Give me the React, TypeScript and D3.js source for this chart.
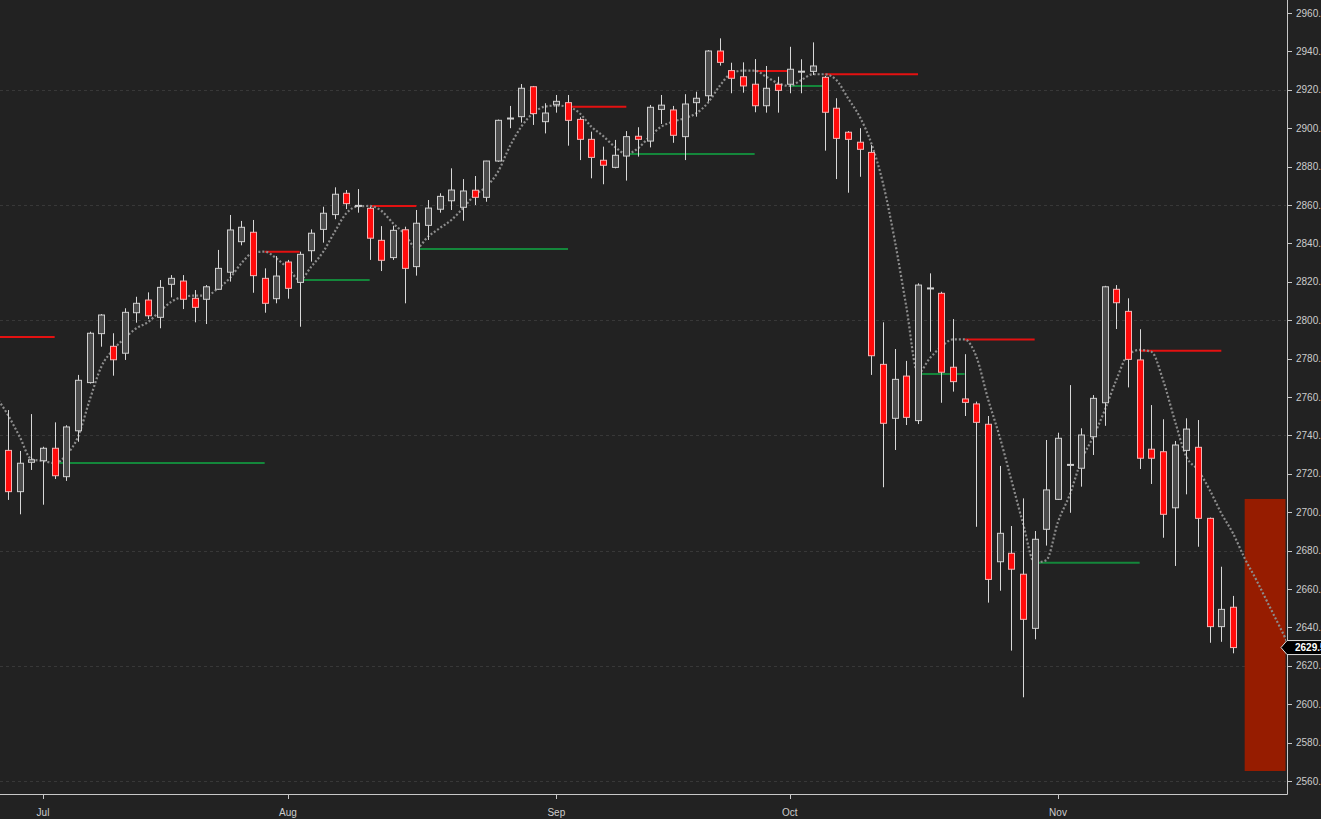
import * as d3 from "d3";
import { useRef, useEffect } from "react";

// Daily bars (bar 0 is the first partly visible candle)
const opens = [
  2732.2, 2710.7, 2726.0, 2726.8, 2733.3, 2718.5, 2742.4, 2767.5, 2793.0, 2786.4,
  2782.8, 2803.9, 2810.5, 2801.5, 2818.7, 2820.4, 2811.4, 2810.9, 2816.1, 2825.0,
  2840.9, 2845.8, 2821.8, 2811.2, 2830.3, 2819.7, 2836.2, 2847.3, 2855.0, 2866.1,
  2859.5, 2858.3, 2841.6, 2832.6, 2847.1, 2827.9, 2849.4, 2857.8, 2862.2, 2858.8,
  2867.7, 2864.0, 2882.9, 2905.0, 2906.0, 2921.6, 2903.4, 2912.2, 2913.3, 2904.6,
  2894.2, 2883.3, 2879.6, 2885.5, 2895.8, 2893.3, 2909.8, 2909.5, 2895.6, 2913.3,
  2916.9, 2940.2, 2930.0, 2926.8, 2922.9, 2911.7, 2922.9, 2922.9, 2929.4, 2929.6,
  2926.5, 2910.4, 2897.9, 2892.7, 2887.4, 2777.0, 2748.9, 2770.9, 2747.7, 2816.6,
  2814.0, 2775.5, 2759.0, 2756.4, 2745.8, 2674.2, 2678.6, 2667.7, 2639.5, 2691.1,
  2706.7, 2724.6, 2722.9, 2739.3, 2757.0, 2816.1, 2804.6, 2779.3, 2732.8, 2731.5,
  2702.3, 2732.2, 2733.8, 2696.8, 2640.4, 2650.5,
];
const highs = [
  2753.2, 2731.9, 2751.1, 2734.1, 2746.8, 2745.3, 2771.5, 2794.0, 2803.2, 2793.2,
  2806.2, 2812.2, 2814.5, 2820.9, 2823.5, 2823.5, 2815.7, 2818.3, 2836.6, 2854.8,
  2851.7, 2852.2, 2827.0, 2833.4, 2831.4, 2835.7, 2847.3, 2859.1, 2869.2, 2867.8,
  2868.3, 2859.0, 2849.0, 2849.2, 2848.7, 2857.4, 2862.6, 2866.1, 2879.1, 2873.5,
  2875.1, 2883.0, 2904.5, 2911.6, 2923.0, 2922.0, 2913.0, 2917.3, 2917.3, 2905.7,
  2898.2, 2890.4, 2893.9, 2898.5, 2900.5, 2912.1, 2917.3, 2911.6, 2917.7, 2919.0,
  2940.7, 2946.8, 2934.1, 2934.3, 2936.0, 2932.4, 2926.8, 2942.4, 2935.9, 2944.7,
  2927.2, 2915.6, 2898.5, 2900.0, 2891.2, 2798.9, 2785.0, 2778.8, 2819.2, 2824.4,
  2814.8, 2800.6, 2782.3, 2757.6, 2750.1, 2724.1, 2692.8, 2707.2, 2690.2, 2737.6,
  2741.4, 2766.2, 2743.7, 2761.0, 2817.9, 2818.3, 2811.4, 2795.3, 2755.8, 2748.4,
  2737.1, 2748.9, 2748.0, 2697.2, 2671.6, 2656.4,
];
const lows = [
  2706.4, 2698.9, 2722.0, 2703.9, 2717.3, 2716.3, 2736.7, 2767.0, 2786.2, 2771.1,
  2779.3, 2798.7, 2800.6, 2795.8, 2811.9, 2805.8, 2798.9, 2798.0, 2815.8, 2820.1,
  2839.0, 2814.3, 2803.9, 2808.8, 2811.2, 2796.6, 2830.5, 2840.4, 2852.6, 2857.9,
  2856.0, 2831.4, 2825.6, 2831.4, 2808.8, 2823.2, 2841.8, 2856.0, 2857.4, 2851.8,
  2860.0, 2861.7, 2882.5, 2900.0, 2902.9, 2901.7, 2897.3, 2908.1, 2890.9, 2883.4,
  2873.9, 2870.8, 2879.1, 2872.7, 2885.2, 2890.0, 2902.2, 2892.4, 2883.4, 2906.0,
  2913.8, 2932.6, 2918.2, 2918.5, 2908.3, 2908.1, 2908.1, 2918.2, 2918.2, 2927.7,
  2888.3, 2873.5, 2866.4, 2874.7, 2771.5, 2713.0, 2732.4, 2745.4, 2745.9, 2783.6,
  2757.0, 2762.8, 2750.1, 2692.4, 2652.9, 2659.1, 2627.9, 2603.6, 2633.8, 2682.6,
  2706.4, 2699.7, 2713.3, 2729.8, 2745.0, 2795.4, 2765.0, 2722.5, 2714.7, 2686.7,
  2672.0, 2709.3, 2682.0, 2632.0, 2632.5, 2626.5,
];
const closes = [
  2710.7, 2725.5, 2727.3, 2733.3, 2719.0, 2744.4, 2768.7, 2793.2, 2802.7, 2779.4,
  2804.1, 2808.8, 2802.3, 2817.1, 2821.8, 2810.9, 2806.7, 2817.4, 2827.0, 2847.0,
  2848.4, 2823.2, 2808.8, 2823.0, 2816.6, 2834.3, 2845.3, 2855.7, 2865.6, 2860.7,
  2859.8, 2842.7, 2831.2, 2846.8, 2827.0, 2850.5, 2858.4, 2864.5, 2867.8, 2867.3,
  2864.0, 2882.9, 2904.1, 2905.3, 2920.8, 2907.6, 2907.9, 2914.0, 2904.1, 2894.2,
  2884.8, 2880.7, 2885.9, 2895.6, 2894.2, 2910.9, 2912.0, 2896.3, 2912.6, 2915.6,
  2940.2, 2934.3, 2926.0, 2922.0, 2911.7, 2920.8, 2919.7, 2930.7, 2929.7, 2932.4,
  2908.3, 2894.7, 2894.2, 2889.0, 2781.5, 2746.3, 2769.2, 2749.4, 2818.3, 2816.8,
  2772.9, 2768.0, 2757.2, 2746.8, 2665.0, 2689.0, 2670.3, 2644.2, 2685.9, 2711.6,
  2738.5, 2724.9, 2740.2, 2759.3, 2817.4, 2809.1, 2779.6, 2728.1, 2728.1, 2698.9,
  2735.0, 2743.3, 2696.8, 2640.4, 2649.4, 2629.5,
];

// dotted average as drawn, one value per bar starting at bar -1
const maFirstBar = -1;
const maValues = [
  2760.0, 2750.6, 2739.3, 2727.6, 2726.7, 2725.6, 2729.8, 2739.3, 2758.4, 2775.8,
  2784.5, 2790.6, 2795.8, 2799.0, 2804.5, 2809.6, 2812.2, 2812.8, 2812.8, 2816.6,
  2821.8, 2829.6, 2835.2, 2835.7, 2832.2, 2827.0, 2821.0, 2827.9, 2835.5, 2846.0,
  2855.7, 2859.3, 2859.5, 2857.0, 2850.5, 2844.9, 2837.5, 2843.5, 2847.9, 2852.2,
  2858.3, 2865.2, 2869.5, 2877.3, 2890.4, 2900.8, 2907.8, 2911.2, 2911.8, 2911.2,
  2907.8, 2900.8, 2896.0, 2890.4, 2886.6, 2889.5, 2895.6, 2900.8, 2903.4, 2905.2,
  2907.8, 2913.3, 2922.0, 2928.6, 2930.0, 2930.0, 2926.8, 2923.4, 2922.0, 2925.1,
  2928.1, 2928.1, 2925.1, 2915.6, 2906.0, 2892.1, 2871.3, 2841.8, 2807.0, 2772.3,
  2780.1, 2786.2, 2790.0, 2790.0, 2781.0, 2759.0, 2739.3, 2716.8, 2694.2, 2673.7,
  2675.0, 2695.0, 2709.0, 2727.0, 2739.0, 2753.0, 2768.9, 2782.0, 2784.5, 2783.6,
  2768.9, 2748.0, 2728.9, 2722.0, 2711.6, 2699.4, 2689.0, 2676.0, 2664.7, 2652.5,
  2640.4, 2628.0,
];

// swing levels: red from an average top, green from an average bottom
const levelFrom = [-1, 4, 22, 25, 31, 35, 48, 53, 64, 67, 70, 78, 82, 88, 97];
const levelTo = [4, 22, 25, 31, 35, 48, 53, 64, 67, 70, 78, 82, 88, 97, 104];
const levelValue = [
  2791.3, 2725.6, 2835.7, 2820.9, 2859.5, 2837.1, 2911.2, 2886.6, 2929.8, 2922.0,
  2928.1, 2772.0, 2790.0, 2673.7, 2784.1,
];
const levelKind = [
  "top", "bottom", "top", "bottom", "top", "bottom", "top", "bottom", "top", "bottom",
  "top", "bottom", "top", "bottom", "top",
];

// projected range box right of the last bar
const boxFrom = 106;
const boxTo = 109.5;
const boxHigh = 2706.9;
const boxLow = 2565.2;

const monthBars = [3, 24, 47, 67, 90];
const monthLabels = ["Jul", "Aug", "Sep", "Oct", "Nov"];

const priceTicks = [
  2560, 2580, 2600, 2620, 2640, 2660, 2680, 2700, 2720, 2740, 2760, 2780, 2800,
  2820, 2840, 2860, 2880, 2900, 2920, 2940, 2960,
];
const gridLevels = [2560, 2620, 2680, 2740, 2800, 2860, 2920];

const lastPrice = 2629.5;

const App = () => {
  const svgRef = useRef<SVGSVGElement>(null);

  useEffect(() => {
    if (!svgRef.current) return;
    const svg = d3.select(svgRef.current);
    svg.selectAll("*").remove();

    const width = 1321;
    const height = 819;
    const plotRight = 1287;
    const plotBottom = 794;
    const font = "'Liberation Sans', Arial, sans-serif";

    svg.attr("width", width).attr("height", height);

    const x = d3.scaleLinear().domain([0, 105]).range([8, 1233]);
    const y = d3.scaleLinear().domain([2560, 2960]).range([781, 13]);

    svg.append("rect").attr("width", width).attr("height", height).attr("fill", "#222222");

    svg
      .append("defs")
      .append("clipPath")
      .attr("id", "plot")
      .append("rect")
      .attr("x", 0)
      .attr("y", 0)
      .attr("width", plotRight - 1)
      .attr("height", plotBottom);

    const plot = svg.append("g").attr("clip-path", "url(#plot)");

    // grid
    plot
      .selectAll("line.grid")
      .data(gridLevels)
      .join("line")
      .attr("class", "grid")
      .attr("x1", 0)
      .attr("x2", plotRight)
      .attr("y1", (d) => Math.round(y(d)) + 0.5)
      .attr("y2", (d) => Math.round(y(d)) + 0.5)
      .attr("stroke", "#383838")
      .attr("stroke-dasharray", "3,3");

    // projection box
    plot
      .append("rect")
      .attr("x", x(boxFrom))
      .attr("width", x(boxTo) - x(boxFrom))
      .attr("y", y(boxHigh))
      .attr("height", y(boxLow) - y(boxHigh))
      .attr("fill", "#961c00");

    // swing levels
    plot
      .selectAll("line.level")
      .data(levelValue)
      .join("line")
      .attr("class", "level")
      .attr("x1", (_, i) => x(levelFrom[i]))
      .attr("x2", (_, i) => x(levelTo[i]))
      .attr("y1", (d) => y(d))
      .attr("y2", (d) => y(d))
      .attr("stroke", (_, i) => (levelKind[i] === "top" ? "#e41111" : "#14873b"))
      .attr("stroke-width", 2);

    // dotted average
    const maLine = d3
      .line<number>()
      .x((_, i) => x(maFirstBar + i))
      .y((d) => y(d))
      .curve(d3.curveMonotoneX);
    plot
      .append("path")
      .attr("d", maLine(maValues))
      .attr("fill", "none")
      .attr("stroke", "#8c8c8c")
      .attr("stroke-width", 2.2)
      .attr("stroke-dasharray", "2,2");

    // candles
    const bars = d3.range(closes.length);
    const candle = plot.selectAll("g.candle").data(bars).join("g").attr("class", "candle");

    candle
      .append("line")
      .attr("x1", (i) => Math.round(x(i)) + 0.5)
      .attr("x2", (i) => Math.round(x(i)) + 0.5)
      .attr("y1", (i) => y(highs[i]))
      .attr("y2", (i) => y(lows[i]))
      .attr("stroke", "#d8d8d8");

    candle
      .append("rect")
      .attr("x", (i) => Math.round(x(i)) - 2.5)
      .attr("width", 6)
      .attr("y", (i) => y(Math.max(opens[i], closes[i])))
      .attr("height", (i) => Math.max(1, Math.abs(y(opens[i]) - y(closes[i]))))
      .attr("fill", (i) => (closes[i] < opens[i] ? "#ff0a0a" : "#4c4c4c"))
      .attr("stroke", (i) => (closes[i] < opens[i] ? "#f2b4b4" : "#cfcfcf"))
      .attr("stroke-width", 1);

    // axes
    svg
      .append("line")
      .attr("x1", plotRight + 0.5)
      .attr("x2", plotRight + 0.5)
      .attr("y1", 0)
      .attr("y2", plotBottom + 0.5)
      .attr("stroke", "#c8c8c8");
    svg
      .append("line")
      .attr("x1", 0)
      .attr("x2", plotRight + 0.5)
      .attr("y1", plotBottom + 0.5)
      .attr("y2", plotBottom + 0.5)
      .attr("stroke", "#c8c8c8");

    const yTick = svg.selectAll("g.ytick").data(priceTicks).join("g").attr("class", "ytick");
    yTick
      .append("line")
      .attr("x1", plotRight)
      .attr("x2", plotRight + 5)
      .attr("y1", (d) => Math.round(y(d)) + 0.5)
      .attr("y2", (d) => Math.round(y(d)) + 0.5)
      .attr("stroke", "#c8c8c8");
    yTick
      .append("text")
      .attr("x", plotRight + 9)
      .attr("y", (d) => y(d))
      .attr("dy", "0.35em")
      .attr("fill", "#cccccc")
      .style("font", `10px ${font}`)
      .text((d) => d3.format(".2f")(d));

    const xTick = svg.selectAll("g.xtick").data(monthBars).join("g").attr("class", "xtick");
    xTick
      .append("line")
      .attr("x1", (d) => Math.round(x(d)) + 0.5)
      .attr("x2", (d) => Math.round(x(d)) + 0.5)
      .attr("y1", plotBottom)
      .attr("y2", plotBottom + 5)
      .attr("stroke", "#c8c8c8");
    xTick
      .append("text")
      .attr("x", (d) => x(d))
      .attr("y", 812)
      .attr("dy", "0.35em")
      .attr("text-anchor", "middle")
      .attr("fill", "#cccccc")
      .style("font", `10px ${font}`)
      .text((_, i) => monthLabels[i]);

    // last price tag
    const py = y(lastPrice);
    svg
      .append("path")
      .attr(
        "d",
        `M${plotRight - 6},${py} L${plotRight},${py - 7} H${width + 2} V${py + 7} H${plotRight} Z`
      )
      .attr("fill", "#000000")
      .attr("stroke", "#e0e0e0");
    svg
      .append("text")
      .attr("x", plotRight + 8)
      .attr("y", py)
      .attr("dy", "0.35em")
      .attr("fill", "#ffffff")
      .style("font", `bold 10px ${font}`)
      .text(d3.format(".2f")(lastPrice));
  }, []);

  return (
    <div style={{ position: "absolute", left: 0, top: 0, width: 1321, height: 819, overflow: "hidden" }}>
      <svg ref={svgRef} style={{ display: "block" }} />
    </div>
  );
};

export default App;
